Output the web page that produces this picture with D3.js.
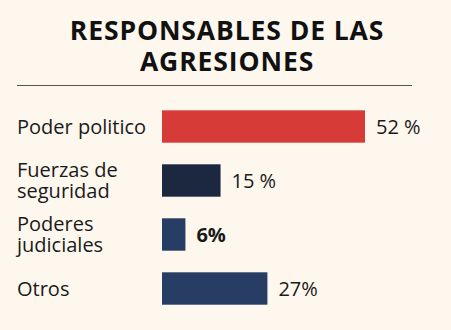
<!DOCTYPE html>
<html>
<head>
<meta charset="utf-8">
<script src="https://cdn.jsdelivr.net/npm/d3@7"></script>
<style>
  html, body { margin: 0; padding: 0; background: #fdf7ee; }
  svg { display: block; }
</style>
</head>
<body>
<div id="chart"></div>
<script>
// categories, one array of lines per label
let categories = [
    ['Poder politico'],
    ['Fuerzas de', 'seguridad'],
    ['Poderes', 'judiciales'],
    ['Otros']
];
let values = [52, 15, 6, 27];
let valueLabels = ['52 %', '15 %', '6%', '27%'];
let titleLines = ['RESPONSABLES DE LAS', 'AGRESIONES'];

let width = 451, height = 330;
let barLeft = 162;

let svg = d3.select('#chart').append('svg')
    .attr('width', width)
    .attr('height', height);

svg.append('rect')
    .attr('width', width)
    .attr('height', height)
    .attr('fill', '#fdf7ee');

// header
svg.append('g')
    .selectAll('text')
    .data(titleLines)
    .enter()
    .append('text')
        .attr('x', 227)
        .attr('y', function(d, i) { return 40 + i * 31; })
        .attr('text-anchor', 'middle')
        .style('font-family', '"Open Sans", sans-serif')
        .style('font-weight', 700)
        .style('font-size', '26.5px')
        .style('letter-spacing', '0.9px')
        .attr('fill', '#111')
        .text(function(d) { return d; });

svg.append('line')
    .attr('x1', 17).attr('x2', 412)
    .attr('y1', 85.5).attr('y2', 85.5)
    .attr('stroke', '#555')
    .attr('stroke-width', 1);

let x = d3.scaleLinear()
    .domain([0, d3.max(values)])
    .range([barLeft, 365]);

let y = d3.scaleBand()
    .domain(d3.range(values.length))
    .range([99.5, 315.5])
    .paddingInner(0.4)
    .paddingOuter(0.2);

let colors = ['#d63b38', '#1c2840', '#273d63', '#273d63'];

let rows = svg.append('g')
    .selectAll('g')
    .data(values)
    .enter()
    .append('g');

rows.append('rect')
    .attr('x', x(0))
    .attr('y', function(d, i) { return y(i); })
    .attr('width', function(d) { return x(d) - x(0); })
    .attr('height', y.bandwidth())
    .attr('fill', function(d, i) { return colors[i]; });

rows.append('text')
    .attr('x', function(d) { return x(d) + 11; })
    .attr('y', function(d, i) { return y(i) + y.bandwidth() / 2 + 7; })
    .style('font-family', '"Open Sans", sans-serif')
    .style('font-size', '20px')
    .style('font-weight', function(d, i) { return i == 2 ? 700 : 400; })
    .attr('fill', '#1a1a1a')
    .text(function(d, i) { return valueLabels[i]; });

// category labels, one or two lines
rows.append('text')
    .style('font-family', '"Open Sans", sans-serif')
    .style('font-size', '20px')
    .attr('fill', '#1a1a1a')
    .each(function(d, i) {
        let lines = categories[i];
        let mid = y(i) + y.bandwidth() / 2;
        let first = lines.length == 1 ? mid + 7 : mid - 4;
        d3.select(this).selectAll('tspan')
            .data(lines)
            .enter()
            .append('tspan')
                .attr('x', 17)
                .attr('y', function(l, j) { return first + j * 21.5; })
                .text(function(l) { return l; });
    });
</script>
</body>
</html>
